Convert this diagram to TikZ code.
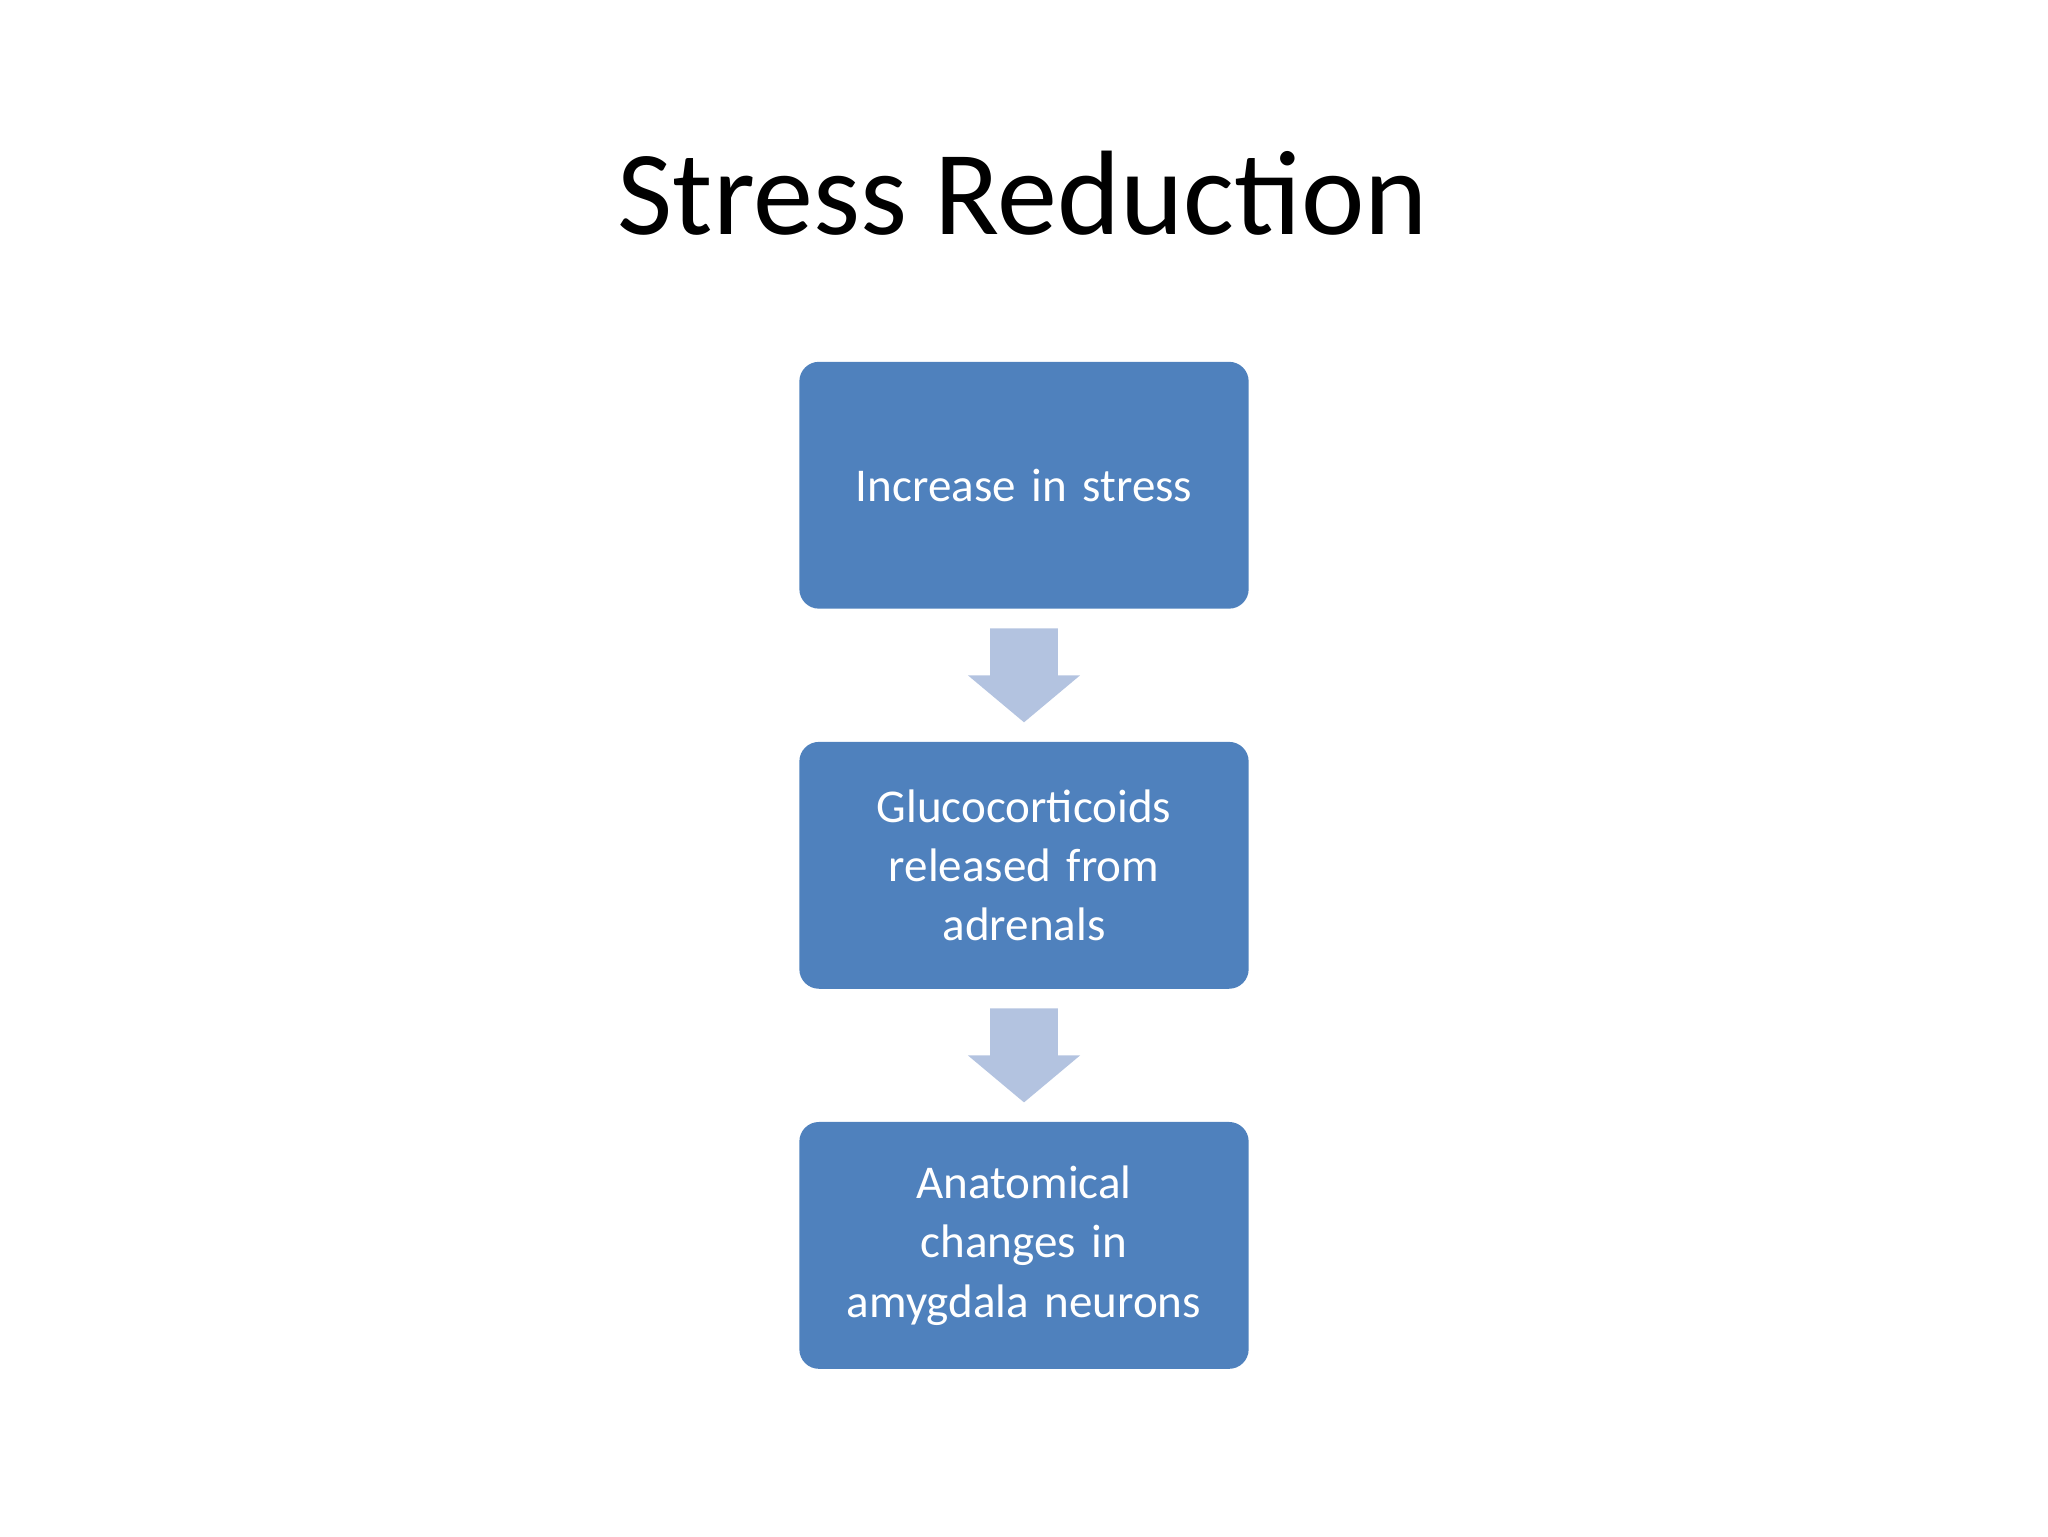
\documentclass[tikz,border=0pt]{standalone}
\usepackage{fontspec}
\setmainfont{Carlito}
\definecolor{boxblue}{HTML}{4F81BD}
\definecolor{arrblue}{HTML}{B3C3E0}
\begin{document}
\begin{tikzpicture}[x=1pt,y=-1pt,
  stepbox/.style={fill=boxblue,rounded corners=15pt,minimum width=344pt,minimum height=189pt,text=white,align=center,font=\fontsize{36}{45.5}\selectfont,inner sep=0pt,text width=330pt},
  downarrow/.style={fill=arrblue}]
\useasboundingbox (0,0) rectangle (1568,1176);
\node[font=\fontsize{92}{100}\selectfont] (title) at (783,148) {Stress Reduction};
\node[stepbox] (a) at (784,371.5) {Increase in stress};
\node[stepbox] (b) at (784,662.5) {Glucocorticoids\\released from\\adrenals};
\node[stepbox] (c) at (784,953.5) {Anatomical\\changes in\\amygdala neurons};
\fill[downarrow] (758,481) -- (810,481) -- (810,517) -- (827,517) -- (784,553) -- (741,517) -- (758,517) -- cycle;
\fill[downarrow] (758,772) -- (810,772) -- (810,808) -- (827,808) -- (784,844) -- (741,808) -- (758,808) -- cycle;
\end{tikzpicture}
\end{document}
